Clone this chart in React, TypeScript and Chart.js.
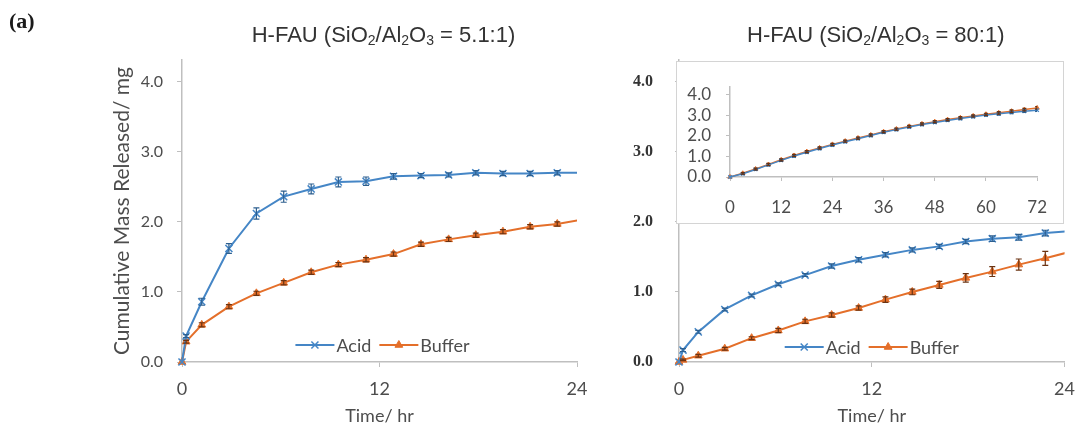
import React, { useEffect, useRef } from 'react';
import { Chart, registerables } from 'chart.js';
import { drawPoint } from 'chart.js/helpers';

Chart.register(...registerables);

// ---------------- DATA ----------------
const SERIES_NAMES = ['Acid', 'Buffer'];
const TIME_H = [0, 0.25, 1.2, 2.85, 4.52, 6.18, 7.85, 9.5, 11.18, 12.85, 14.52, 16.2, 17.85, 19.5, 21.15, 22.8, 24.47];

// H-FAU 5.1:1
const ACID_51 = [0, 0.37, 0.86, 1.62, 2.12, 2.36, 2.47, 2.57, 2.58, 2.65, 2.66, 2.67, 2.7, 2.69, 2.69, 2.7, 2.7];
const ACID_51_ERR = [0, 0.02, 0.05, 0.07, 0.08, 0.08, 0.07, 0.07, 0.06, 0.04, 0.03, 0.03, 0.03, 0.03, 0.03, 0.03, 0];
const BUFFER_51 = [0, 0.29, 0.53, 0.79, 0.98, 1.13, 1.28, 1.39, 1.46, 1.54, 1.68, 1.75, 1.81, 1.86, 1.93, 1.97, 2.04];
const BUFFER_51_ERR = [0, 0.02, 0.03, 0.03, 0.03, 0.03, 0.03, 0.03, 0.03, 0.03, 0.03, 0.03, 0.03, 0.03, 0.03, 0.03, 0];

// H-FAU 80:1
const ACID_80 = [0, 0.17, 0.43, 0.75, 0.95, 1.11, 1.24, 1.37, 1.46, 1.53, 1.6, 1.65, 1.72, 1.76, 1.78, 1.84, 1.87];
const ACID_80_ERR = [0, 0.02, 0.02, 0.02, 0.02, 0.02, 0.02, 0.03, 0.03, 0.03, 0.03, 0.03, 0.03, 0.04, 0.04, 0.04, 0];
const BUFFER_80 = [0, 0.03, 0.09, 0.19, 0.34, 0.45, 0.58, 0.67, 0.77, 0.89, 1.0, 1.1, 1.2, 1.29, 1.39, 1.48, 1.58];
const BUFFER_80_ERR = [0, 0.01, 0.02, 0.02, 0.02, 0.03, 0.03, 0.03, 0.03, 0.04, 0.04, 0.05, 0.06, 0.07, 0.08, 0.1, 0];

// Inset (72 h)
const INSET_TIME_H = [0, 3, 6, 9, 12, 15, 18, 21, 24, 27, 30, 33, 36, 39, 42, 45, 48, 51, 54, 57, 60, 63, 66, 69, 72];
const INSET_ACID = [0, 0.16, 0.37, 0.59, 0.81, 1.02, 1.21, 1.39, 1.56, 1.72, 1.87, 2.02, 2.18, 2.31, 2.44, 2.56, 2.66, 2.76, 2.85, 2.94, 3.02, 3.08, 3.15, 3.21, 3.26];
const INSET_BUFFER = [0, 0.18, 0.39, 0.61, 0.84, 1.05, 1.24, 1.42, 1.59, 1.75, 1.9, 2.05, 2.21, 2.34, 2.47, 2.59, 2.7, 2.8, 2.89, 2.98, 3.06, 3.13, 3.21, 3.29, 3.37];
const INSET_ERR = [0, 0.04, 0.04, 0.05, 0.05, 0.05, 0.05, 0.05, 0.05, 0.05, 0.05, 0.05, 0.05, 0.05, 0.05, 0.05, 0.05, 0.05, 0.05, 0.05, 0.05, 0.06, 0.06, 0.06, 0.06];

// Ticks / labels
const X_TICKS_MAIN = [0, 12, 24];
const X_TICKS_INSET = [0, 12, 24, 36, 48, 60, 72];
const Y_TICKS = [0, 1, 2, 3, 4];
const X_TITLE = 'Time/ hr';
const Y_TITLE = 'Cumulative Mass Released/ mg';
const PANEL_LABEL = '(a)';
const TITLE_LEFT = [
  { text: 'H-FAU (SiO' }, { text: '2', sub: true }, { text: '/Al' }, { text: '2', sub: true },
  { text: 'O' }, { text: '3', sub: true }, { text: ' = 5.1:1)' },
];
const TITLE_RIGHT = [
  { text: 'H-FAU (SiO' }, { text: '2', sub: true }, { text: '/Al' }, { text: '2', sub: true },
  { text: 'O' }, { text: '3', sub: true }, { text: ' = 80:1)' },
];

// ---------------- STYLE ----------------
const BLUE = '#4586c6';
const ORANGE = '#e46f2a';
const ERR_BLUE = '#2d5f8f';
const ERR_ORANGE = '#6b3312';
const AXIS_GREY = '#bfbfbf';
const TEXT_GREY = '#4d4d4d';
const SANS = 'Lato, "Open Sans", sans-serif';

const toXY = (xs: number[], ys: number[]) => xs.map((x, i) => ({ x, y: ys[i] }));

// ---------------- PLUGINS ----------------
const errorBarPlugin = {
  id: 'errorBars',
  afterDatasetsDraw(chart: any) {
    const { ctx, chartArea } = chart;
    const xs = chart.scales.x;
    const ys = chart.scales.y;
    ctx.save();
    ctx.beginPath();
    ctx.rect(chartArea.left - 8, chartArea.top, chartArea.right - chartArea.left + 8, chartArea.bottom - chartArea.top + 8);
    ctx.clip();
    chart.data.datasets.forEach((ds: any) => {
      if (!ds.errors) return;
      ctx.strokeStyle = ds.errorColor;
      ctx.lineWidth = 1.2;
      const cw = ds.capWidth ?? 3;
      ds.data.forEach((p: any, i: number) => {
        const e = ds.errors[i];
        if (!e) return;
        const x = xs.getPixelForValue(p.x);
        const y1 = ys.getPixelForValue(p.y + e);
        const y2 = ys.getPixelForValue(p.y - e);
        ctx.beginPath();
        ctx.moveTo(x, y1); ctx.lineTo(x, y2);
        ctx.moveTo(x - cw, y1); ctx.lineTo(x + cw, y1);
        ctx.moveTo(x - cw, y2); ctx.lineTo(x + cw, y2);
        ctx.stroke();
      });
    });
    ctx.restore();
  },
};

const inlineLegendPlugin = {
  id: 'inlineLegend',
  afterDraw(chart: any, _args: any, opts: any) {
    if (!opts || !opts.display) return;
    const { ctx, chartArea } = chart;
    ctx.save();
    ctx.font = opts.font;
    const sample = opts.sampleWidth;
    const gapText = opts.gapText;
    const gapItem = opts.gapItem;
    const items = chart.data.datasets.map((ds: any) => ({ ds, w: ctx.measureText(ds.label).width }));
    const total = items.reduce((s: number, it: any) => s + sample + gapText + it.w, 0) + gapItem * (items.length - 1);
    let x = (chartArea.left + chartArea.right) / 2 - total / 2 + (opts.dx || 0);
    const y = chartArea.bottom + opts.dy;
    items.forEach(({ ds, w }: any) => {
      ctx.strokeStyle = ds.borderColor;
      ctx.lineWidth = ds.borderWidth;
      ctx.beginPath();
      ctx.moveTo(x, y);
      ctx.lineTo(x + sample, y);
      ctx.stroke();
      ctx.fillStyle = ds.pointBackgroundColor;
      ctx.strokeStyle = ds.pointBorderColor;
      ctx.lineWidth = ds.pointBorderWidth;
      drawPoint(ctx, { pointStyle: ds.pointStyle, radius: ds.pointRadius, borderWidth: ds.pointBorderWidth, rotation: 0 } as any, x + sample / 2, y);
      ctx.fillStyle = opts.color;
      ctx.textAlign = 'left';
      ctx.textBaseline = 'middle';
      ctx.font = opts.font;
      ctx.fillText(ds.label, x + sample + gapText, y + 1);
      x += sample + gapText + w + gapItem;
    });
    ctx.restore();
  },
};

const richTitlePlugin = {
  id: 'richTitle',
  afterDraw(chart: any, _args: any, opts: any) {
    if (!opts || !opts.segments) return;
    const { ctx, chartArea } = chart;
    ctx.save();
    ctx.textBaseline = 'middle';
    ctx.textAlign = 'left';
    ctx.fillStyle = opts.color;
    const segs: any[] = [];
    for (let i = 0; i < opts.segments.length; i++) segs.push(opts.segments[i]);
    const widths = segs.map((s) => {
      ctx.font = s.sub ? opts.subFont : opts.font;
      return ctx.measureText(s.text).width;
    });
    const total = widths.reduce((a, b) => a + b, 0);
    let x = (chartArea.left + chartArea.right) / 2 + (opts.dx || 0) - total / 2;
    segs.forEach((s, i) => {
      ctx.font = s.sub ? opts.subFont : opts.font;
      ctx.fillText(s.text, x, opts.y + (s.sub ? opts.subDy : 0));
      x += widths[i];
    });
    if (opts.label) {
      ctx.font = opts.labelFont;
      ctx.fillStyle = '#1a1a1a';
      ctx.fillText(opts.label, opts.labelX, opts.labelY);
    }
    ctx.restore();
  },
};

// ---------------- CONFIG BUILDERS ----------------
function seriesDatasets(acid: number[], acidErr: number[], buffer: number[], bufferErr: number[]) {
  return [
    {
      label: SERIES_NAMES[0],
      data: toXY(TIME_H, acid),
      errors: acidErr,
      errorColor: ERR_BLUE,
      borderColor: BLUE,
      backgroundColor: BLUE,
      borderWidth: 2,
      pointStyle: 'crossRot',
      pointRadius: 5,
      pointBorderWidth: 1.5,
      pointBorderColor: BLUE,
      pointBackgroundColor: BLUE,
      tension: 0,
      clip: { left: 8, top: 5, right: 0, bottom: 8 },
    },
    {
      label: SERIES_NAMES[1],
      data: toXY(TIME_H, buffer),
      errors: bufferErr,
      errorColor: ERR_ORANGE,
      borderColor: ORANGE,
      backgroundColor: ORANGE,
      borderWidth: 2,
      pointStyle: 'triangle',
      pointRadius: 4.5,
      pointBorderWidth: 1,
      pointBorderColor: ORANGE,
      pointBackgroundColor: ORANGE,
      tension: 0,
      clip: { left: 8, top: 5, right: 0, bottom: 8 },
    },
  ];
}

function mainConfig(side: 'left' | 'right'): any {
  const isLeft = side === 'left';
  const datasets = isLeft
    ? seriesDatasets(ACID_51, ACID_51_ERR, BUFFER_51, BUFFER_51_ERR)
    : seriesDatasets(ACID_80, ACID_80_ERR, BUFFER_80, BUFFER_80_ERR);
  return {
    type: 'line',
    data: { datasets },
    plugins: [errorBarPlugin, inlineLegendPlugin, richTitlePlugin],
    options: {
      animation: false,
      responsive: false,
      devicePixelRatio: 1,
      layout: { padding: isLeft ? { left: 100, right: 23, top: 60, bottom: 0 } : { left: 0, right: 13, top: 60, bottom: 0 } },
      plugins: {
        legend: { display: false },
        tooltip: { enabled: false },
        title: { display: false },
        inlineLegend: {
          display: true,
          font: `18px ${SANS}`,
          color: TEXT_GREY,
          sampleWidth: 39,
          gapText: 2,
          gapItem: 8,
          dy: isLeft ? -17 : -15,
          dx: isLeft ? 3 : 0,
        },
        richTitle: {
          segments: isLeft ? TITLE_LEFT : TITLE_RIGHT,
          font: '22px "Liberation Sans", Arial, sans-serif',
          subFont: '14px "Liberation Sans", Arial, sans-serif',
          subDy: 5,
          color: '#333333',
          y: 36,
          dx: 4,
          label: isLeft ? PANEL_LABEL : undefined,
          labelFont: 'bold 22px "Liberation Serif", serif',
          labelX: 9,
          labelY: 22,
        },
      },
      scales: {
        x: {
          type: 'linear',
          min: 0,
          max: 24,
          afterBuildTicks: (s: any) => { s.ticks = X_TICKS_MAIN.map((v) => ({ value: v })); },
          afterFit: (s: any) => { s.height = 65; },
          grid: { display: true, drawOnChartArea: false, drawTicks: true, tickLength: 5, color: AXIS_GREY },
          border: { display: true, color: AXIS_GREY, width: 1.5 },
          ticks: { autoSkip: false, maxRotation: 0, padding: 11, color: TEXT_GREY, font: { family: SANS, size: 18 }, callback: (v: any) => String(v) },
          title: { display: true, text: X_TITLE, color: TEXT_GREY, font: { family: SANS, size: 18 }, padding: { top: 0, bottom: 0 } },
        },
        y: {
          type: 'linear',
          min: 0,
          max: 4.31,
          afterBuildTicks: (s: any) => { s.ticks = Y_TICKS.map((v) => ({ value: v })); },
          afterFit: (s: any) => { s.width = isLeft ? 82 : 89; },
          grid: { display: true, drawOnChartArea: false, drawTicks: true, tickLength: isLeft ? 5 : 4, color: AXIS_GREY },
          border: { display: true, color: AXIS_GREY, width: 1.5 },
          ticks: isLeft
            ? { autoSkip: false, padding: 14, color: TEXT_GREY, font: { family: SANS, size: 16 }, callback: (v: any) => Number(v).toFixed(1) }
            : { autoSkip: false, padding: 22, color: '#333333', font: { family: '"Liberation Serif", serif', size: 16, weight: 'bold' }, callback: (v: any) => Number(v).toFixed(1) },
          title: isLeft
            ? { display: true, text: Y_TITLE, color: TEXT_GREY, font: { family: SANS, size: 21 }, padding: { top: 10, bottom: 0 } }
            : { display: false },
        },
      },
    },
  };
}

function insetConfig(): any {
  return {
    type: 'line',
    data: {
      datasets: [
        {
          label: SERIES_NAMES[0],
          data: toXY(INSET_TIME_H, INSET_ACID),
          errors: INSET_ERR,
          errorColor: ERR_BLUE,
          capWidth: 2,
          borderColor: BLUE,
          borderWidth: 1.5,
          pointStyle: 'crossRot',
          pointRadius: 2.5,
          pointBorderWidth: 1.2,
          pointBorderColor: BLUE,
          pointBackgroundColor: BLUE,
          clip: { left: 6, top: 5, right: 6, bottom: 6 },
        },
        {
          label: SERIES_NAMES[1],
          data: toXY(INSET_TIME_H, INSET_BUFFER),
          errors: INSET_ERR,
          errorColor: ERR_ORANGE,
          capWidth: 2,
          borderColor: ORANGE,
          borderWidth: 1.5,
          pointStyle: 'triangle',
          pointRadius: 2.5,
          pointBorderWidth: 1,
          pointBorderColor: ORANGE,
          pointBackgroundColor: ORANGE,
          clip: { left: 6, top: 5, right: 6, bottom: 6 },
        },
      ],
    },
    plugins: [errorBarPlugin],
    options: {
      animation: false,
      responsive: false,
      devicePixelRatio: 1,
      layout: { padding: { left: 0, right: 23, top: 11, bottom: 0 } },
      plugins: { legend: { display: false }, tooltip: { enabled: false }, title: { display: false } },
      scales: {
        x: {
          type: 'linear',
          min: 0,
          max: 72,
          afterBuildTicks: (s: any) => { s.ticks = X_TICKS_INSET.map((v) => ({ value: v })); },
          afterFit: (s: any) => { s.height = 46; },
          grid: { display: true, drawOnChartArea: false, drawTicks: true, tickLength: 4, color: AXIS_GREY },
          border: { display: true, color: AXIS_GREY, width: 1.5 },
          ticks: { autoSkip: false, maxRotation: 0, padding: 16, color: TEXT_GREY, font: { family: SANS, size: 17 }, callback: (v: any) => String(v) },
        },
        y: {
          type: 'linear',
          min: 0,
          max: 4.38,
          afterBuildTicks: (s: any) => { s.ticks = Y_TICKS.map((v) => ({ value: v })); },
          afterFit: (s: any) => { s.width = 53; },
          grid: { display: true, drawOnChartArea: false, drawTicks: true, tickLength: 4, color: AXIS_GREY },
          border: { display: true, color: AXIS_GREY, width: 1.5 },
          ticks: { autoSkip: false, padding: 15, color: TEXT_GREY, font: { family: SANS, size: 17 }, callback: (v: any) => Number(v).toFixed(1) },
        },
      },
    },
  };
}

// ---------------- COMPONENTS ----------------
function ChartCanvas({ build, width, height, style }: { build: () => any; width: number; height: number; style: React.CSSProperties }) {
  const ref = useRef<HTMLCanvasElement>(null);
  useEffect(() => {
    const chart = new Chart(ref.current as HTMLCanvasElement, build());
    return () => chart.destroy();
  }, []);
  return <canvas ref={ref} width={width} height={height} style={{ ...style, width, height }} />;
}

export default function App() {
  return (
    <div style={{ position: 'absolute', left: 0, top: 0, width: 1086, height: 427, background: '#fff', overflow: 'hidden' }}>
      <ChartCanvas build={() => mainConfig('left')} width={600} height={427} style={{ position: 'absolute', left: 0, top: 0 }} />
      <ChartCanvas build={() => mainConfig('right')} width={496} height={427} style={{ position: 'absolute', left: 590, top: 0 }} />
      <div style={{ position: 'absolute', left: 676, top: 61, width: 386, height: 161, border: '1px solid #d4d4d4', background: '#fff' }}>
        <ChartCanvas build={insetConfig} width={386} height={161} style={{ position: 'absolute', left: 0, top: 0 }} />
      </div>
    </div>
  );
}
